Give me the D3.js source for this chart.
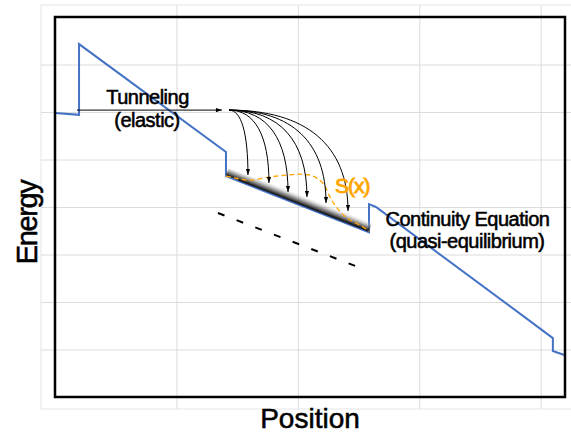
<!DOCTYPE html>
<html>
<head>
<meta charset="utf-8">
<script src="https://cdn.jsdelivr.net/npm/d3@7"></script>
<style>
  body { margin: 0; background: #fff; }
  svg text { font-family: "Liberation Sans", Arial, sans-serif; }
</style>
</head>
<body>
<script>
// band diagram, position in arbitrary units, energy in grid steps
var bandX = [0, 0.198, 0.198, 1.408, 1.408, 2.586, 2.586, 2.643, 4.10, 4.10, 4.2];
var bandE = [5.98, 5.94, 7.43, 5.16, 4.65, 3.47, 4.06, 4.00, 1.24, 0.97, 0.88];

var tunnelX = [0.181, 1.375];
var tunnelE = 6.04;
var srcX = 1.433, srcE = 6.04;

var arrowEndX = [1.589, 1.762, 1.919, 2.075, 2.232, 2.413];
var arrowEndE = [4.674, 4.505, 4.316, 4.211, 4.084, 3.916];

var sX = [1.408, 1.500, 1.610, 1.762, 1.902, 2.018, 2.125, 2.207, 2.265, 2.322, 2.405, 2.537, 2.586];
var sE = [4.65, 4.60, 4.565, 4.63, 4.67, 4.69, 4.65, 4.50, 4.21, 3.98, 3.77, 3.58, 3.49];

var dashX = [1.342, 2.495];
var dashE = [3.874, 2.737];

var xTicks = [1, 2, 3, 4];
var yTicks = [1, 2, 3, 4, 5, 6, 7];

var W = 571, H = 437;
var svg = d3.select("body").append("svg").attr("width", W).attr("height", H);

var x = d3.scaleLinear().domain([0, 4.2]).range([55, 565]);
var y = d3.scaleLinear().domain([0, 8]).range([397, 17]);

var outer = {l: 41, t: 5, r: 575, b: 409};

// outer light frame + grid
svg.append("rect")
  .attr("x", outer.l).attr("y", outer.t)
  .attr("width", outer.r - outer.l).attr("height", outer.b - outer.t)
  .attr("fill", "none").attr("stroke", "#e6e6e6");

var gx = svg.append("g").attr("transform", "translate(0," + outer.b + ")")
  .call(d3.axisBottom(x).tickValues(xTicks).tickSize(-(outer.b - outer.t)).tickFormat(""));
var gy = svg.append("g").attr("transform", "translate(" + outer.l + ",0)")
  .call(d3.axisLeft(y).tickValues(yTicks).tickSize(-(outer.r - outer.l)).tickFormat(""));
[gx, gy].forEach(g => {
  g.select(".domain").remove();
  g.selectAll(".tick line").attr("stroke", "#dcdcdc").attr("stroke-width", 1);
});

var defs = svg.append("defs");
defs.append("marker").attr("id", "head")
  .attr("viewBox", "0 0 10 10").attr("refX", 10).attr("refY", 5)
  .attr("markerWidth", 7).attr("markerHeight", 6).attr("markerUnits", "userSpaceOnUse")
  .attr("orient", "auto")
  .append("path").attr("d", "M0,1.5 L10,5 L0,8.5 Z").attr("fill", "#000");

// blue band edge
var bandPts = bandX.map((v, i) => [v, bandE[i]]);
svg.append("path")
  .attr("d", d3.line().x(d => x(d[0])).y(d => y(d[1]))(bandPts))
  .attr("fill", "none").attr("stroke", "#4472c4").attr("stroke-width", 2);

// gradient wedge on the middle segment
var a = [x(bandX[4]), y(bandE[4])], b = [x(bandX[5]), y(bandE[5])];
var dx = b[0] - a[0], dy = b[1] - a[1], len = Math.hypot(dx, dy);
var nx = dy / len, ny = -dx / len;
var thickA = 7, thickB = 13;
var grad = defs.append("linearGradient").attr("id", "wedge")
  .attr("gradientUnits", "userSpaceOnUse")
  .attr("x1", a[0]).attr("y1", a[1] - 1)
  .attr("x2", a[0] + nx * 10).attr("y2", a[1] - 1 + ny * 10);
grad.append("stop").attr("offset", 0).attr("stop-color", "#000").attr("stop-opacity", 0.95);
grad.append("stop").attr("offset", 0.4).attr("stop-color", "#666").attr("stop-opacity", 0.7);
grad.append("stop").attr("offset", 1).attr("stop-color", "#fff").attr("stop-opacity", 0);
svg.append("path")
  .attr("d", "M" + [a[0], a[1] - 1] + "L" + [b[0], b[1] - 1] +
             "L" + [b[0] + nx * thickB, b[1] - 1 + ny * thickB] +
             "L" + [a[0] + nx * thickA, a[1] - 1 + ny * thickA] + "Z")
  .attr("fill", "url(#wedge)");
svg.append("line")
  .attr("x1", a[0] + 12).attr("y1", a[1] - 1 + dy / dx * 12)
  .attr("x2", b[0]).attr("y2", b[1] - 0.8)
  .attr("stroke", "#111").attr("stroke-width", 1.3).attr("stroke-opacity", 0.8);

// dashed reference line
svg.append("line")
  .attr("x1", x(dashX[0])).attr("y1", y(dashE[0]))
  .attr("x2", x(dashX[1])).attr("y2", y(dashE[1]))
  .attr("stroke", "#000").attr("stroke-width", 2).attr("stroke-dasharray", "7,13");

// S(x)
svg.append("path")
  .attr("d", d3.line().curve(d3.curveCatmullRom).x(d => x(d)).y((d, i) => y(sE[i]))(sX))
  .attr("fill", "none").attr("stroke", "#ffa500").attr("stroke-width", 1.3)
  .attr("stroke-dasharray", "5,3");

// tunneling arrow
svg.append("line")
  .attr("x1", x(tunnelX[0])).attr("y1", y(tunnelE))
  .attr("x2", x(tunnelX[1])).attr("y2", y(tunnelE))
  .attr("stroke", "#000").attr("stroke-width", 1).attr("marker-end", "url(#head)");

// relaxation arrows
var p0 = [x(srcX), y(srcE)];
arrowEndX.forEach((v, i) => {
  var p3 = [x(v), y(arrowEndE[i])];
  var p = d3.path();
  p.moveTo(p0[0], p0[1]);
  p.bezierCurveTo(p0[0] + (p3[0] - p0[0]) * 0.65, p0[1],
                  p3[0], p0[1] + (p3[1] - p0[1]) * 0.35,
                  p3[0], p3[1]);
  svg.append("path").attr("d", p.toString())
    .attr("fill", "none").attr("stroke", "#000").attr("stroke-width", 1)
    .attr("marker-end", "url(#head)");
});

// plot frame
svg.append("rect")
  .attr("x", x(0)).attr("y", y(8))
  .attr("width", x(4.2) - x(0)).attr("height", y(0) - y(8))
  .attr("fill", "none").attr("stroke", "#000").attr("stroke-width", 2.5);

// labels
function label(tx, ty, str, size, ls, color, anchor, sw) {
  return svg.append("text").attr("x", tx).attr("y", ty)
    .attr("text-anchor", anchor || "middle")
    .attr("font-size", size).attr("letter-spacing", ls)
    .attr("fill", color).attr("stroke", color).attr("stroke-width", sw || 0.55)
    .text(str);
}
label(147.5, 104, "Tunneling", 20, -0.5, "#000");
label(147, 127, "(elastic)", 20, -0.5, "#000");
label(335, 193, "S(x)", 21, -1, "#ffa500", "start", 0.9);
label(467.5, 226, "Continuity Equation", 20, -0.5, "#000");
label(467, 248, "(quasi-equilibrium)", 20, -0.5, "#000");

label(310, 428, "Position", 28, 0, "#000");
svg.append("text").attr("transform", "translate(37,222.5) rotate(-90)")
  .attr("text-anchor", "middle").attr("font-size", 29).attr("letter-spacing", -1.4)
  .attr("stroke", "#000").attr("stroke-width", 0.55)
  .text("Energy");
</script>
</body>
</html>
